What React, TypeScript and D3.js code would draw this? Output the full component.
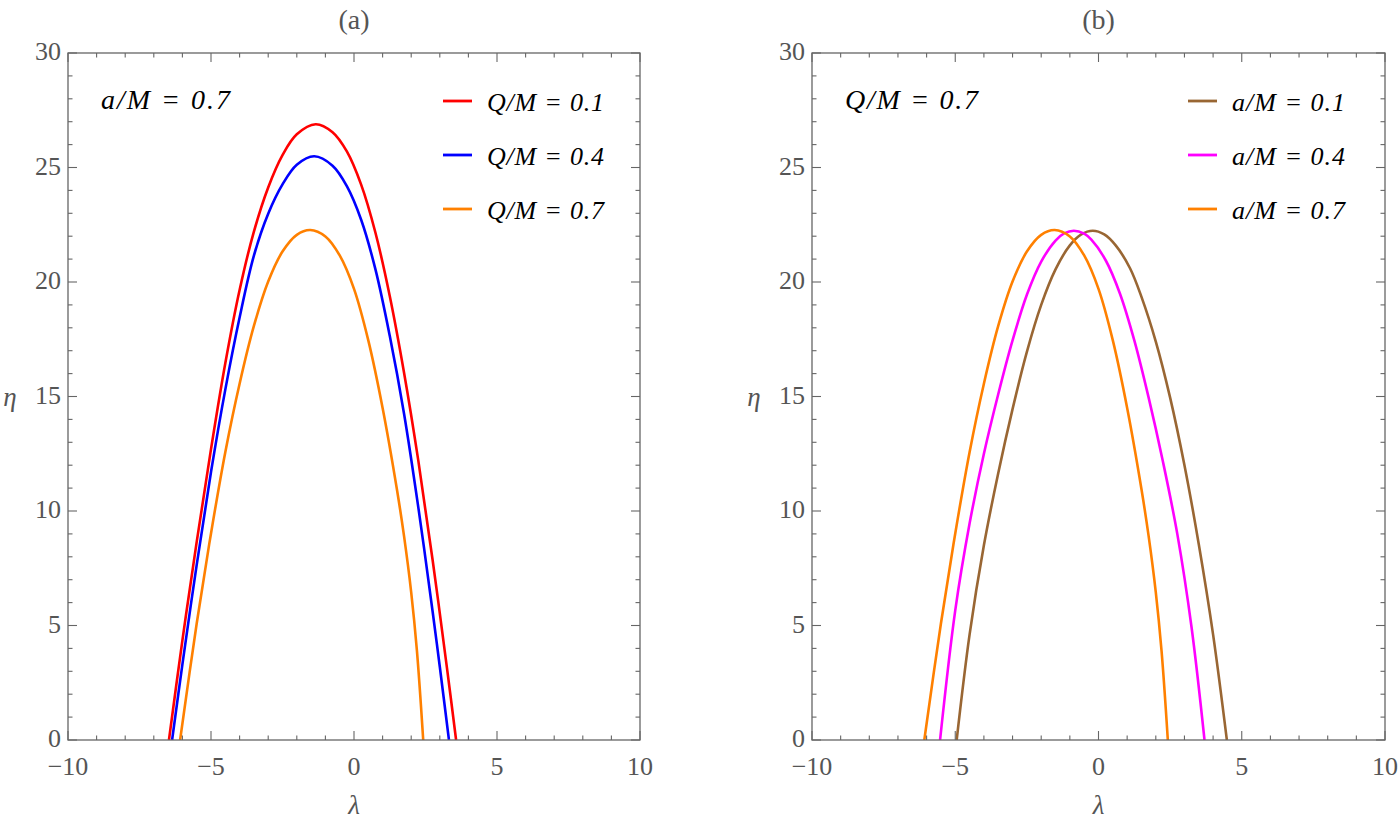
import { useEffect } from "react";
import * as d3 from "d3";

type Pt = [number, number];

// tick values
const xMajor = [-10, -5, 0, 5, 10];
const yMajor = [0, 5, 10, 15, 20, 25, 30];

// points: [lambda, eta]
// panel (a): a/M = 0.7
const aQ01: Pt[] = [
  [-6.47, 0], [-6, 4.35], [-5.5, 8.65], [-5, 12.7], [-4.5, 16.45], [-4, 19.65],
  [-3.5, 22.2], [-3, 24.13], [-2.5, 25.54], [-2, 26.45], [-1.34, 26.89],
  [-0.75, 26.54], [-0.25, 25.7], [0.25, 24.25], [0.75, 22.15], [1.25, 19.39],
  [1.75, 16.04], [2.25, 12.19], [2.75, 7.85], [3.25, 3.15], [3.57, 0],
];
const aQ04: Pt[] = [
  [-6.36, 0], [-6, 3.3], [-5.5, 7.65], [-5, 11.7], [-4.5, 15.3], [-4, 18.45],
  [-3.5, 21.15], [-3, 22.98], [-2.5, 24.26], [-2, 25.12], [-1.39, 25.49],
  [-0.75, 25.08], [-0.25, 24.19], [0.25, 22.72], [0.75, 20.55], [1.25, 17.65],
  [1.75, 14.25], [2.25, 10.15], [2.75, 5.6], [3.0, 3.2], [3.32, 0],
];
// a/M = 0.7 and Q/M = 0.7 (drawn in both panels)
const aQ07: Pt[] = [
  [-6.08, 0], [-5.5, 5.09], [-5, 9.02], [-4.5, 12.57], [-4, 15.56], [-3.5, 18.08],
  [-3, 20.02], [-2.5, 21.33], [-2, 22.06], [-1.53, 22.27], [-1, 21.99],
  [-0.5, 21.16], [0, 19.7], [0.5, 17.45], [1, 14.5], [1.5, 10.95], [1.75, 8.9],
  [2, 6.45], [2.2, 3.9], [2.42, 0],
];

// panel (b): Q/M = 0.7
const bA01: Pt[] = [
  [-4.95, 0], [-4.5, 4.6], [-4, 8.5], [-3.5, 11.65], [-3, 14.45], [-2.5, 16.95],
  [-2, 19.0], [-1.5, 20.55], [-1, 21.6], [-0.6, 22.08], [-0.2, 22.24], [0.2, 22.08],
  [0.6, 21.6], [1.1, 20.6], [1.5, 19.35], [2, 17.4], [2.5, 14.95], [3, 12.0],
  [3.5, 8.55], [4, 4.6], [4.48, 0],
];
const bA04: Pt[] = [
  [-5.53, 0], [-5, 5.66], [-4.5, 9.45], [-4, 12.5], [-3.5, 15.1], [-3, 17.45],
  [-2.5, 19.44], [-2, 20.89], [-1.5, 21.81], [-1.2, 22.12], [-0.86, 22.24],
  [-0.5, 22.11], [-0.25, 21.85], [0.25, 20.95], [0.75, 19.49], [1.25, 17.45],
  [1.75, 14.95], [2.25, 12.15], [2.75, 9.0], [3.25, 4.9], [3.7, 0],
];
const bA07 = aQ07;

const panelALabels = ["Q/M = 0.1", "Q/M = 0.4", "Q/M = 0.7"];
const panelBLabels = ["a/M = 0.1", "a/M = 0.4", "a/M = 0.7"];
const panelAColors = ["#ff0000", "#0000ff", "#ff8000"];
const panelBColors = ["#996633", "#ff00ff", "#ff8000"];

const FONT = "'Liberation Serif', 'Times New Roman', serif";
const AXIS = "#666";
const LABEL = "#555";
const TOP = 53;
const BOTTOM = 740;

interface PanelProps {
  left: number;
  right: number;
  title: string;
  note: string;
  noteWidth: number;
  labels: string[];
  colors: string[];
  series: Pt[][];
  legendWidth: number;
}

const Panel = ({ left, right, title, note, noteWidth, labels, colors, series, legendWidth }: PanelProps) => {
  const x = d3.scaleLinear().domain([-10, 10]).range([left, right]);
  const y = d3.scaleLinear().domain([0, 30]).range([BOTTOM, TOP]);
  const line = d3
    .line<Pt>()
    .x((d) => x(d[0]))
    .y((d) => y(d[1]))
    .curve(d3.curveCatmullRom.alpha(0.5));

  const xMinor = x.ticks(20).filter((t) => !xMajor.includes(t));
  const yMinor = y.ticks(30).filter((t) => !yMajor.includes(t));
  const major = 9;
  const minor = 4.5;
  const clipId = `clip-${title.replace(/\W/g, "")}`;

  return (
    <g fontFamily={FONT}>
      <defs>
        <clipPath id={clipId}>
          <rect x={left} y={TOP} width={right - left} height={BOTTOM - TOP} />
        </clipPath>
      </defs>
      <text x={(left + right) / 2} y={29} textAnchor="middle" fontSize={28} fill={LABEL}>
        {title}
      </text>

      {/* curves */}
      <g clipPath={`url(#${clipId})`}>
        {series.map((s, i) => (
          <path key={i} d={line(s) || ""} fill="none" stroke={colors[i]} strokeWidth={2.6} strokeLinejoin="round" />
        ))}
      </g>

      {/* frame */}
      <rect x={left} y={TOP} width={right - left} height={BOTTOM - TOP} fill="none" stroke={AXIS} strokeWidth={1.3} />

      {/* ticks, inward on all four sides */}
      <g stroke={AXIS} strokeWidth={1.1}>
        {xMajor.concat(xMinor).map((t) => {
          const len = xMajor.includes(t) ? major : minor;
          return (
            <g key={`x${t}`}>
              <line x1={x(t)} x2={x(t)} y1={BOTTOM} y2={BOTTOM - len} />
              <line x1={x(t)} x2={x(t)} y1={TOP} y2={TOP + len} />
            </g>
          );
        })}
        {yMajor.concat(yMinor).map((t) => {
          const len = yMajor.includes(t) ? major : minor;
          return (
            <g key={`y${t}`}>
              <line x1={left} x2={left + len} y1={y(t)} y2={y(t)} />
              <line x1={right} x2={right - len} y1={y(t)} y2={y(t)} />
            </g>
          );
        })}
      </g>

      {/* tick labels */}
      <g fontSize={26} fill={LABEL}>
        {xMajor.map((t) => (
          <text key={`xl${t}`} x={x(t)} y={775} textAnchor="middle">
            {t < 0 ? `\u2212${-t}` : `${t}`}
          </text>
        ))}
        {yMajor.map((t) => (
          <text key={`yl${t}`} x={left - 7} y={y(t) + 7} textAnchor="end">
            {t}
          </text>
        ))}
      </g>

      {/* axis labels */}
      <text x={(left + right) / 2} y={814} textAnchor="middle" fontSize={27} fontStyle="italic" fill={LABEL}>
        λ
      </text>
      <text x={left - 58} y={406} textAnchor="middle" fontSize={27} fontStyle="italic" fill={LABEL}>
        η
      </text>

      {/* parameter note */}
      <text x={left + 33} y={109} fontSize={28} fontStyle="italic" fill="#000" textLength={noteWidth} lengthAdjust="spacing">
        {note}
      </text>

      {/* legend */}
      {labels.map((lab, i) => {
        const ry = 101 + i * 54;
        return (
          <g key={lab}>
            <line x1={right - 197} x2={right - 168} y1={ry} y2={ry} stroke={colors[i]} strokeWidth={2.8} />
            <text x={right - 153} y={ry + 10} fontSize={26} fontStyle="italic" fill="#000" textLength={legendWidth} lengthAdjust="spacing">
              {lab}
            </text>
          </g>
        );
      })}
    </g>
  );
};

const App = () => {
  useEffect(() => {
    document.body.style.margin = "0";
  }, []);

  return (
    <svg width={1400} height={820} viewBox="0 0 1400 820" style={{ display: "block", background: "#fff" }}>
      <Panel
        left={68}
        right={640}
        title="(a)"
        note="a/M = 0.7"
        noteWidth={129}
        labels={panelALabels}
        colors={panelAColors}
        series={[aQ01, aQ04, aQ07]}
        legendWidth={117}
      />
      <Panel
        left={812}
        right={1385}
        title="(b)"
        note="Q/M = 0.7"
        noteWidth={133}
        labels={panelBLabels}
        colors={panelBColors}
        series={[bA01, bA04, bA07]}
        legendWidth={113}
      />
    </svg>
  );
};

export default App;
